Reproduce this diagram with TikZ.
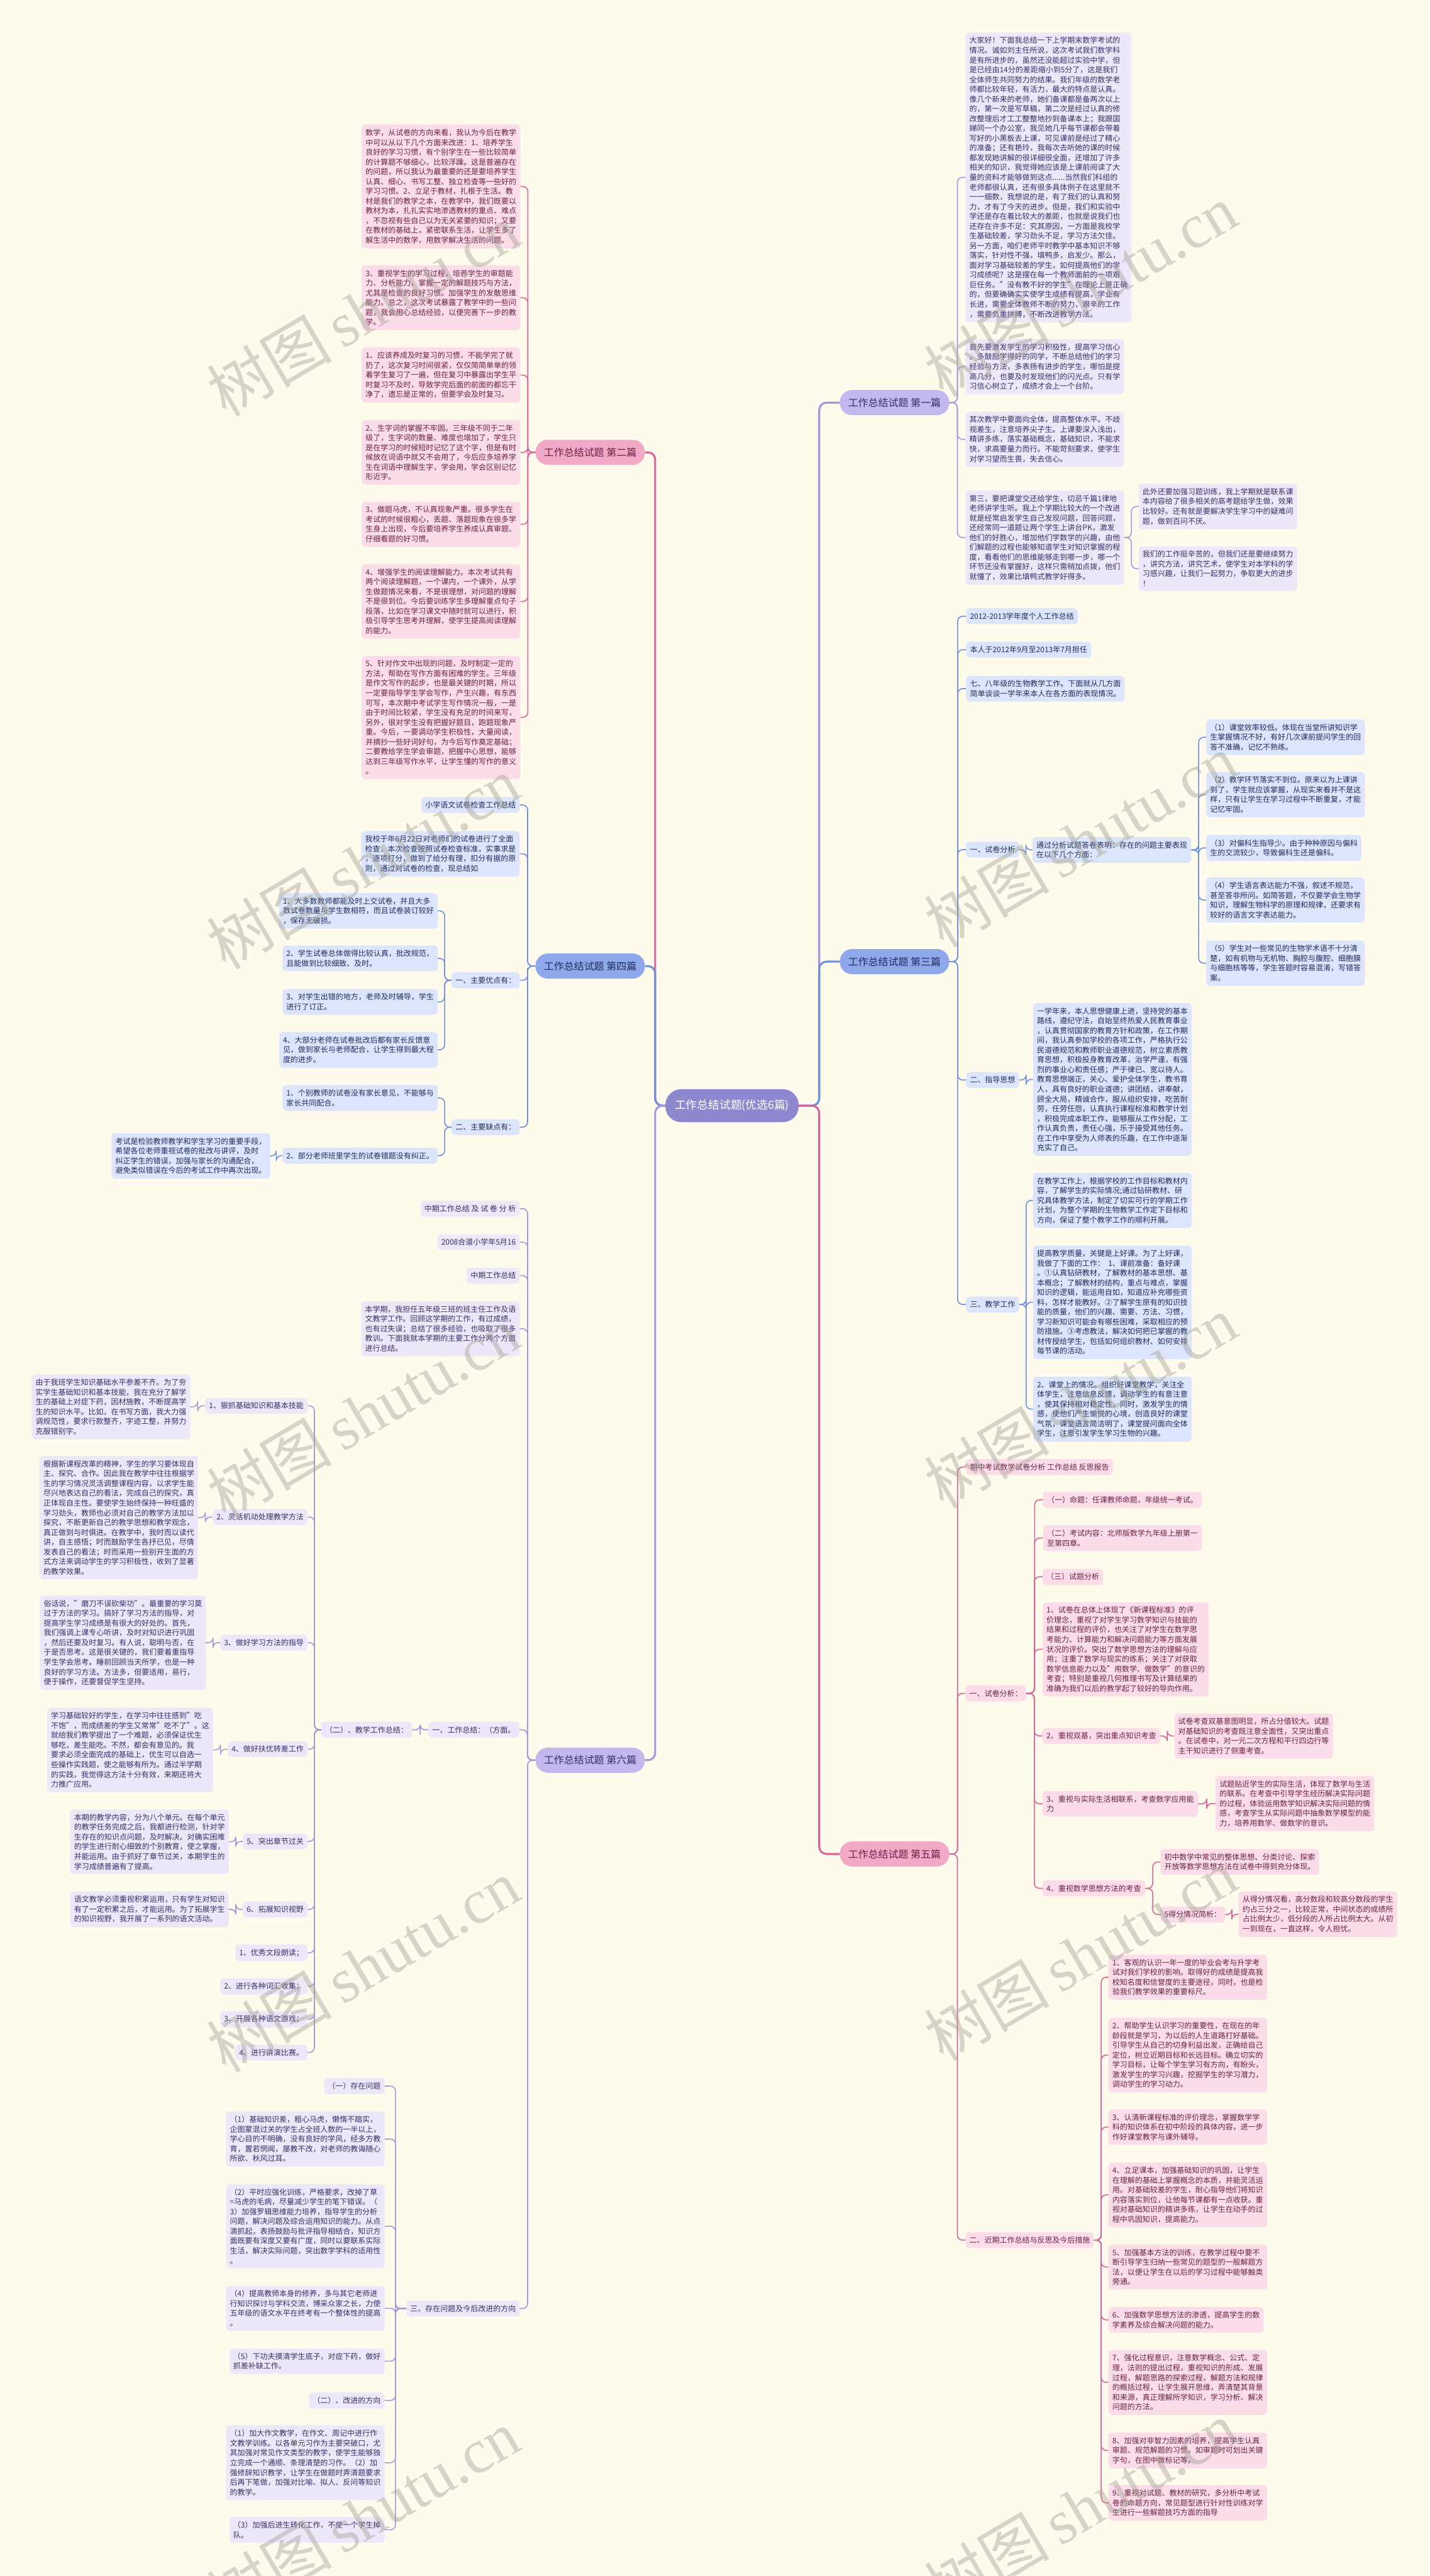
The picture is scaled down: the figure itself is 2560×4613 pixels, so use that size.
\documentclass[tikz,border=0pt]{standalone}
\usepackage{fontspec}
\setmainfont{Noto Sans CJK SC}
\newfontfamily\wmlatin{Liberation Serif}
\usetikzlibrary{calc}
\definecolor{bg}{HTML}{FEFBEC}
\definecolor{pkfill}{HTML}{FBDDEA}
\definecolor{pktext}{HTML}{6A2243}
\definecolor{pkline}{HTML}{D8629A}
\definecolor{pktitle}{HTML}{F2A9C8}
\definecolor{blfill}{HTML}{DCE5FB}
\definecolor{bltext}{HTML}{1E2D5E}
\definecolor{blline}{HTML}{6F8FDF}
\definecolor{bltitle}{HTML}{8FA8EC}
\definecolor{pufill}{HTML}{ECE8FA}
\definecolor{putext}{HTML}{3A2E66}
\definecolor{puline}{HTML}{A497DA}
\definecolor{putitle}{HTML}{C3B8EE}
\definecolor{ctr}{HTML}{8E89CF}
\definecolor{wm}{HTML}{A29E92}
\newcommand\cR[3]{\draw[#1] (#2.east) -| ($(#2.east)!.5!(#3.west)$) |- (#3.west);}
\newcommand\cL[3]{\draw[#1] (#2.west) -| ($(#2.west)!.5!(#3.east)$) |- (#3.east);}
\newcommand\wmark[2]{\node[rotate=30.5,text=wm,text opacity=0.42,font=\fontsize{112}{112}\selectfont] at (#1,#2) {树图\,{\wmlatin shutu.cn}};}
\begin{document}
\begin{tikzpicture}[x=1pt,y=-1pt,
  leaf/.style={font=\fontsize{13.5}{17.5}\selectfont,align=left,inner xsep=7pt,inner ysep=8pt,rounded corners=6pt},
  pk/.style={leaf,fill=pkfill,text=pktext},
  bl/.style={leaf,fill=blfill,text=bltext},
  pu/.style={leaf,fill=pufill,text=putext},
  ttl/.style={font=\fontsize{18}{20}\selectfont,rounded corners=22pt,inner xsep=15pt,inner ysep=6pt,minimum height=45pt},
  pkt/.style={ttl,fill=pktitle,text=pktext},
  blt/.style={ttl,fill=bltitle,text=bltext},
  put/.style={ttl,fill=putitle,text=putext},
  pkm/.style={draw=pkline,line width=3.5pt,rounded corners=13pt},
  blm/.style={draw=blline,line width=3.5pt,rounded corners=13pt},
  pum/.style={draw=puline,line width=3.5pt,rounded corners=13pt},
  pkc/.style={draw=pkline,line width=1.8pt,rounded corners=9pt},
  blc/.style={draw=blline,line width=1.8pt,rounded corners=9pt},
  puc/.style={draw=puline,line width=1.8pt,rounded corners=9pt},
  nw/.style={anchor=north west},
  ne/.style={anchor=north east}]
\fill[bg] (0,0) rectangle (2560,4613);
\useasboundingbox (0,0) rectangle (2560,4613);

% ---------- centre ----------
\node[fill=ctr,text=white,font=\fontsize{20}{22}\selectfont,rounded corners=28pt,inner xsep=17pt,minimum height=59pt] (c) at (1311,1980) {工作总结试题(优选6篇)};

% ---------- titles ----------
\node[put] (t1) at (1602,721) {工作总结试题 第一篇};
\node[pkt] (t2) at (1057,810) {工作总结试题 第二篇};
\node[blt] (t3) at (1602,1722) {工作总结试题 第三篇};
\node[blt] (t4) at (1057,1730) {工作总结试题 第四篇};
\node[pkt] (t5) at (1602,3320) {工作总结试题 第五篇};
\node[put] (t6) at (1057,3152) {工作总结试题 第六篇};

% ---------- branch 1 ----------
\node[pu,nw] (p1) at (1729,58) {大家好！下面我总结一下上学期末数学考试的\\情况。诚如刘主任所说，这次考试我们数学科\\是有所进步的，虽然还没能超过实验中学，但\\是已经由14分的差距缩小到5分了，这是我们\\全体师生共同努力的结果。我们年级的数学老\\师都比较年轻，有活力，最大的特点是认真。\\像几个新来的老师，她们备课都是备两次以上\\的，第一次是写草稿，第二次是经过认真的修\\改整理后才工工整整地抄到备课本上；我跟国\\娣同一个办公室，我见她几乎每节课都会带着\\写好的小黑板去上课，可见课前是经过了精心\\的准备；还有艳玲，我每次去听她的课的时候\\都发现她讲解的很详细很全面，还增加了许多\\相关的知识，我觉得她应该是上课前阅读了大\\量的资料才能够做到这点......当然我们科组的\\老师都很认真，还有很多具体例子在这里就不\\一一细数，我想说的是，有了我们的认真和努\\力，才有了今天的进步。但是，我们和实验中\\学还是存在着比较大的差距，也就是说我们也\\还存在许多不足：究其原因，一方面是我校学\\生基础较差，学习劲头不足，学习方法欠佳。\\另一方面，咱们老师平时教学中基本知识不够\\落实，针对性不强，填鸭多，启发少。那么，\\面对学习基础较差的学生，如何提高他们的学\\习成绩呢？这是摆在每一个教师面前的一项艰\\巨任务。"没有教不好的学生"在理论上是正确\\的，但要确确实实使学生成绩有提高，学业有\\长进，需要全体教师不断的努力，艰辛的工作\\，需要负重拼搏，不断改进教学方法。};
\node[pu,nw] (p2) at (1729,607) {首先要激发学生的学习积极性，提高学习信心\\。多鼓励学得好的同学，不断总结他们的学习\\经验与方法，多表扬有进步的学生，哪怕是提\\高几分，也要及时发现他们的闪光点。只有学\\习信心树立了，成绩才会上一个台阶。};
\node[pu,nw] (p3) at (1729,737) {其次教学中要面向全体，提高整体水平。不歧\\视差生，注意培养尖子生。上课要深入浅出，\\精讲多练，落实基础概念，基础知识，不能求\\快，求高要量力而行。不能苛刻要求，使学生\\对学习望而生畏，失去信心。};
\node[pu,nw] (p4) at (1729,878) {第三，要把课堂交还给学生，切忌千篇1律地\\老师讲学生听。我上个学期比较大的一个改进\\就是经常启发学生自己发现问题，回答问题，\\还经常同一道题让两个学生上讲台PK，激发\\他们的好胜心，增加他们学数学的兴趣，由他\\们解题的过程也能够知道学生对知识掌握的程\\度，看看他们的思维能够走到哪一步，哪一个\\环节还没有掌握好，这样只需稍加点拨，他们\\就懂了，效果比填鸭式教学好得多。};
\node[pu,nw] (p4a) at (2039,866) {此外还要加强习题训练，我上学期就是联系课\\本内容给了很多相关的高考题给学生做，效果\\比较好。还有就是要解决学生学习中的疑难问\\题，做到百问不厌。};
\node[pu,nw] (p4b) at (2039,978) {我们的工作挺辛苦的，但我们还是要继续努力\\，讲究方法，讲究艺术，使学生对本学科的学\\习感兴趣，让我们一起努力，争取更大的进步\\！};

% ---------- branch 2 ----------
\node[pk,ne] (a) at (932,223) {数学，从试卷的方向来看，我认为今后在教学\\中可以从以下几个方面来改进：1、培养学生\\良好的学习习惯，有个别学生在一些比较简单\\的计算题不够细心，比较浮躁。这是普遍存在\\的问题，所以我认为最重要的还是要培养学生\\认真、细心、书写工整、独立检查等一些好的\\学习习惯。2、立足于教材，扎根于生活。教\\材是我们的教学之本，在教学中，我们既要以\\教材为本，扎扎实实地渗透教材的重点、难点\\，不忽视有些自己以为无关紧要的知识；又要\\在教材的基础上，紧密联系生活，让学生多了\\解生活中的数学，用数学解决生活的问题。};
\node[pk,ne] (b) at (932,475) {3、重视学生的学习过程，培养学生的审题能\\力、分析能力，掌握一定的解题技巧与方法，\\尤其是检查的良好习惯。加强学生的发散思维\\能力。总之，这次考试暴露了教学中的一些问\\题，我会用心总结经验，以便完善下一步的教\\学。};
\node[pk,ne] (cc) at (932,622) {1、应该养成及时复习的习惯，不能学完了就\\扔了，这次复习时间很紧，仅仅简简单单的领\\着学生复习了一遍，但在复习中暴露出学生平\\时复习不及时，导致学完后面的前面的都忘干\\净了，遗忘是正常的，但要学会及时复习。};
\node[pk,ne] (d) at (932,752) {2、生字词的掌握不牢固。三年级不同于二年\\级了，生字词的数量、难度也增加了，学生只\\是在学习的时候短时记忆了这个字，但是有时\\候放在词语中就又不会用了，今后应多培养学\\生在词语中理解生字，学会用，学会区别记忆\\形近字。};
\node[pk,ne] (e) at (932,898) {3、做题马虎，不认真现象严重。很多学生在\\考试的时候很粗心，丢题、落题现象在很多学\\生身上出现，今后要培养学生养成认真审题、\\仔细看题的好习惯。};
\node[pk,ne] (f) at (932,1010) {4、增强学生的阅读理解能力。本次考试共有\\两个阅读理解题，一个课内，一个课外，从学\\生做题情况来看，不是很理想，对问题的理解\\不是很到位。今后要训练学生多理解重点句子\\段落，比如在学习课文中随时就可以进行，积\\极引导学生思考并理解，使学生提高阅读理解\\的能力。};
\node[pk,ne] (g) at (932,1174) {5、针对作文中出现的问题，及时制定一定的\\方法，帮助在写作方面有困难的学生。三年级\\是作文写作的起步，也是最关键的时期，所以\\一定要指导学生学会写作，产生兴趣，有东西\\可写，本次期中考试学生写作情况一般，一是\\由于时间比较紧，学生没有充足的时间来写，\\另外，很对学生没有把握好题目，跑题现象严\\重。今后，一要调动学生积极性，大量阅读，\\并摘抄一些好词好句，为今后写作奠定基础；\\二要教给学生学会审题，把握中心思想，能够\\达到三年级写作水平，让学生懂的写作的意义\\。};

% ---------- branch 3 ----------
\node[bl,nw] (q1) at (1730,1089) {2012-2013学年度个人工作总结};
\node[bl,nw] (q2) at (1730,1149) {本人于2012年9月至2013年7月担任};
\node[bl,nw] (q3) at (1730,1210) {七、八年级的生物教学工作。下面就从几方面\\简单谈谈一学年来本人在各方面的表现情况。};
\node[bl,nw] (q4) at (1730,1507) {一、试卷分析};
\node[bl,anchor=west] (q4a) at (1849,1522) {通过分析试题答卷表明：存在的问题主要表现\\在以下几个方面：};
\node[bl,nw] (q41) at (2160,1288) {（1）课堂效率较低。体现在当堂所讲知识学\\生掌握情况不好，有好几次课前提问学生的回\\答不准确，记忆不熟练。};
\node[bl,nw] (q42) at (2160,1382) {（2）教学环节落实不到位。原来以为上课讲\\到了，学生就应该掌握，从现实来看并不是这\\样，只有让学生在学习过程中不断重复，才能\\记忆牢固。};
\node[bl,nw] (q43) at (2160,1495) {（3）对偏科生指导少。由于种种原因与偏科\\生的交流较少，导致偏科生还是偏科。};
\node[bl,nw] (q44) at (2160,1571) {（4）学生语言表达能力不强，叙述不规范，\\甚至答非所问。如简答题，不仅要学会生物学\\知识，理解生物科学的原理和规律，还要求有\\较好的语言文字表达能力。};
\node[bl,nw] (q45) at (2160,1684) {（5）学生对一些常见的生物学术语不十分清\\楚，如有机物与无机物、胸腔与腹腔、细胞膜\\与细胞核等等，学生答题时容易混淆，写错答\\案。};
\node[bl,anchor=west] (q5) at (1730,1934) {二、指导思想};
\node[bl,nw] (q5a) at (1850,1796) {一学年来，本人思想健康上进，坚持党的基本\\路线，遵纪守法，自始至终热爱人民教育事业\\，认真贯彻国家的教育方针和政策，在工作期\\间，我认真参加学校的各项工作，严格执行公\\民道德规范和教师职业道德规范，树立素质教\\育思想，积极投身教育改革，治学严谨，有强\\烈的事业心和责任感；严于律已、宽以待人。\\教育思想端正，关心、爱护全体学生，教书育\\人，具有良好的职业道德；讲团结，讲奉献，\\顾全大局，精诚合作，服从组织安排，吃苦耐\\劳，任劳任怨，认真执行课程标准和教学计划\\，积极完成本职工作，能够服从工作分配，工\\作认真负责，责任心强，乐于接受其他任务。\\在工作中享受为人师表的乐趣，在工作中逐渐\\充实了自己。};
\node[bl,anchor=west] (q6) at (1730,2336) {三、教学工作};
\node[bl,nw] (q6a) at (1850,2100) {在教学工作上，根据学校的工作目标和教材内\\容，了解学生的实际情况;通过钻研教材、研\\究具体教学方法，制定了切实可行的学期工作\\计划，为整个学期的生物教学工作定下目标和\\方向，保证了整个教学工作的顺利开展。};
\node[bl,nw] (q6b) at (1850,2230) {提高教学质量，关键是上好课。为了上好课，\\我做了下面的工作：\ \ 1、课前准备：备好课\\。①认真钻研教材，了解教材的基本思想、基\\本概念；了解教材的结构，重点与难点，掌握\\知识的逻辑，能运用自如，知道应补充哪些资\\料，怎样才能教好。②了解学生原有的知识技\\能的质量，他们的兴趣、需要、方法、习惯，\\学习新知识可能会有哪些困难，采取相应的预\\防措施。③考虑教法，解决如何把已掌握的教\\材传授给学生，包括如何组织教材、如何安排\\每节课的活动。};
\node[bl,nw] (q6c) at (1850,2465) {2、课堂上的情况。组织好课堂教学，关注全\\体学生，注意信息反馈，调动学生的有意注意\\，使其保持相对稳定性，同时，激发学生的情\\感，使他们产生愉悦的心境，创造良好的课堂\\气氛，课堂语言简洁明了，课堂提问面向全体\\学生，注意引发学生学习生物的兴趣。};

% ---------- branch 4 ----------
\node[bl,ne] (s1) at (931,1427) {小学语文试卷检查工作总结};
\node[bl,ne] (s2) at (931,1488) {我校于年6月22日对老师们的试卷进行了全面\\检查，本次检查按照试卷检查标准，实事求是\\，逐项打分，做到了给分有理，扣分有据的原\\则，通过对试卷的检查，现总结如};
\node[bl,ne] (s3) at (931,1741) {一、主要优点有：};
\node[bl,ne] (s31) at (784,1599) {1、大多数教师都能及时上交试卷，并且大多\\数试卷数量与学生数相符，而且试卷装订较好\\，保存无破损。};
\node[bl,ne] (s32) at (784,1693) {2、学生试卷总体做得比较认真，批改规范，\\且能做到比较细致、及时。};
\node[bl,ne] (s33) at (784,1771) {3、对学生出错的地方，老师及时辅导，学生\\进行了订正。};
\node[bl,ne] (s34) at (784,1848) {4、大部分老师在试卷批改后都有家长反馈意\\见，做到家长与老师配合，让学生得到最大程\\度的进步。};
\node[bl,ne] (s4) at (931,2004) {二、主要缺点有：};
\node[bl,ne] (s41) at (784,1943) {1、个别教师的试卷没有家长意见，不能够与\\家长共同配合。};
\node[bl,ne] (s42) at (784,2055) {2、部分老师班里学生的试卷错题没有纠正。};
\node[bl,anchor=east] (s42a) at (484,2070) {考试是检验教师教学和学生学习的重要手段，\\希望各位老师重视试卷的批改与讲评，及时\\纠正学生的错误，加强与家长的沟通配合，\\避免类似错误在今后的考试工作中再次出现。};

% ---------- branch 5 ----------
\node[pk,anchor=west] (f1) at (1730,2627) {期中考试数学试卷分析 工作总结 反思报告};
\node[pk,nw] (f2) at (1729,3018) {一、试卷分析：};
\node[pk,nw] (f21) at (1868,2671) {（一）命题：任课教师命题，年级统一考试。};
\node[pk,nw] (f22) at (1868,2731) {（二）考试内容：北师版数学九年级上册第一\\至第四章。};
\node[pk,nw] (f23) at (1867,2809) {（三）试题分析};
\node[pk,nw] (f24) at (1867,2869) {1、试卷在总体上体现了《新课程标准》的评\\价理念，重视了对学生学习数学知识与技能的\\结果和过程的评价，也关注了对学生在数学思\\考能力、计算能力和解决问题能力等方面发展\\状况的评价。突出了数学思想方法的理解与应\\用；注重了数学与现实的练系；关注了对获取\\数学信息能力以及"用数学、做数学"的意识的\\考查；特别是重视几何推理书写及计算结果的\\准确为我们以后的教学起了较好的导向作用。};
\node[pk,nw] (f25) at (1867,3094) {2、重视双基，突出重点知识考查};
\node[pk,nw] (f25a) at (2103,3068) {试卷考查双基意图明显，所占分值较大。试题\\对基础知识的考查既注意全面性，又突出重点\\。在试卷中，对一元二次方程和平行四边行等\\主干知识进行了侧重考查。};
\node[pk,nw] (f26) at (1867,3207) {3、重视与实际生活相联系，考查数学应用能\\力};
\node[pk,nw] (f26a) at (2177,3180) {试题贴近学生的实际生活，体现了数学与生活\\的联系。在考查中引导学生经历解决实际问题\\的过程，体验运用数学知识解决实际问题的情\\感，考查学生从实际问题中抽象数学模型的能\\力，培养用数学、做数学的意识。};
\node[pk,nw] (f27) at (1867,3367) {4、重视数学思想方法的考查};
\node[pk,nw] (f27a) at (2078,3311) {初中数学中常见的整体思想、分类讨论、探索\\开放等数学思想方法在试卷中得到充分体现。};
\node[pk,nw] (f27b) at (2078,3414) {5得分情况简析：};
\node[pk,nw] (f27c) at (2218,3387) {从得分情况看，高分数段和较高分数段的学生\\约占三分之一，比较正常，中间状态的成绩所\\占比例太少，低分段的人所占比例太大。从初\\一到现在，一直这样，令人担忧。};
\node[pk,nw] (f3) at (1729,3997) {二、近期工作总结与反思及今后措施};
\node[pk,nw] (f31) at (1985,3500) {1、客观的认识一年一度的毕业会考与升学考\\试对我们学校的影响。取得好的成绩是提高我\\校知名度和信誉度的主要途径，同时，也是检\\验我们教学效果的重要标尺。};
\node[pk,nw] (f32) at (1985,3613) {2、帮助学生认识学习的重要性，在现在的年\\龄段就是学习，为以后的人生道路打好基础。\\引导学生从自己的切身利益出发，正确给自己\\定位，树立近期目标和长远目标。确立切实的\\学习目标，让每个学生学习有方向，有盼头，\\激发学生的学习兴趣，挖掘学生的学习潜力，\\调动学生的学习动力。};
\node[pk,nw] (f33) at (1985,3777) {3、认清新课程标准的评价理念，掌握数学学\\科的知识体系在初中阶段的具体内容，进一步\\作好课堂教学与课外辅导。};
\node[pk,nw] (f34) at (1985,3872) {4、立足课本，加强基础知识的巩固，让学生\\在理解的基础上掌握概念的本质，并能灵活运\\用。对基础较差的学生，耐心指导他们将知识\\内容落实到位，让他每节课都有一点收获。重\\视对基础知识的精讲多练，让学生在动手的过\\程中巩固知识，提高能力。};
\node[pk,nw] (f35) at (1985,4019) {5、加强基本方法的训练，在教学过程中要不\\断引导学生归纳一些常见的题型的一般解题方\\法，以便让学生在以后的学习过程中能够触类\\旁通。};
\node[pk,nw] (f36) at (1985,4131) {6、加强数学思想方法的渗透，提高学生的数\\学素养及综合解决问题的能力。};
\node[pk,nw] (f37) at (1985,4208) {7、强化过程意识，注意数学概念、公式、定\\理，法则的提出过程，重视知识的形成、发展\\过程，解题思路的探索过程，解题方法和规律\\的概括过程，让学生展开思维，弄清楚其背景\\和来源，真正理解所学知识，学习分析、解决\\问题的方法。};
\node[pk,nw] (f38) at (1985,4356) {8、加强对非智力因素的培养，提高学生认真\\审题、规范解题的习惯。如审题时可划出关键\\字句，在图中做标记等。};
\node[pk,nw] (f39) at (1985,4450) {9、重视对试题、教材的研究，多分析中考试\\卷的命题方向，常见题型进行针对性训练对学\\生进行一些解题技巧方面的指导};

% ---------- branch 6 ----------
\node[pu,ne] (x1) at (931,2150) {中期工作总结 及 试 卷 分 析};
\node[pu,ne] (x2) at (931,2210) {2008合道小学年5月16};
\node[pu,ne] (x3) at (931,2270) {中期工作总结};
\node[pu,ne] (x4) at (931,2330) {本学期，我担任五年级三班的班主任工作及语\\文教学工作。回顾这学期的工作，有过成绩，\\也有过失误；总结了很多经验，也吸取了很多\\教训。下面我就本学期的主要工作分两个方面\\进行总结。};
\node[pu,ne] (x5) at (930,3083) {一、工作总结：（方面。};
\node[pu,ne] (x5a) at (738,3083) {（二）、教学工作总结：};
\node[pu,ne] (x51) at (551,2503) {1、狠抓基础知识和基本技能};
\node[pu,ne] (x51a) at (341,2461) {由于我班学生知识基础水平参差不齐。为了夯\\实学生基础知识和基本技能，我在充分了解学\\生的基础上对症下药，因材施教，不断提高学\\生的知识水平。比如，在书写方面，我大力强\\调规范性，要求行款整齐，字迹工整，并努力\\克服错别字。};
\node[pu,ne] (x52) at (551,2702) {2、灵活机动处理教学方法};
\node[pu,ne] (x52a) at (355,2607) {根据新课程改革的精神，学生的学习要体现自\\主、探究、合作。因此我在教学中往往根据学\\生的学习情况灵活调整课程内容，以求学生能\\尽兴地表达自己的看法，完成自己的探究，真\\正体现自主性。要使学生始终保持一种旺盛的\\学习劲头，教师也必须对自己的教学方法加以\\探究，不断更新自己的教学思想和教学观念，\\真正做到与时俱进。在教学中，我时而以读代\\讲，自主感悟；时而鼓励学生各抒已见，尽情\\发表自己的看法；时而采用一些别开生面的方\\式方法来调动学生的学习积极性，收到了显著\\的教学效果。};
\node[pu,ne] (x53) at (551,2927) {3、做好学习方法的指导};
\node[pu,ne] (x53a) at (369,2857) {俗话说，"磨刀不误砍柴功"。最重要的学习莫\\过于方法的学习。搞好了学习方法的指导，对\\提高学生学习成绩是有很大的好处的。首先，\\我们强调上课专心听讲，及时对知识进行巩固\\，然后还要及时复习。有人说，聪明与否，在\\于是否思考。这是很关键的，我们要着重指导\\学生学会思考。睡前回顾当天所学，也是一种\\良好的学习方法。方法多，但要适用，易行，\\便于操作，还要督促学生坚持。};
\node[pu,ne] (x54) at (551,3118) {4、做好扶优转差工作};
\node[pu,ne] (x54a) at (382,3058) {学习基础较好的学生，在学习中往往感到"吃\\不饱"，而成绩差的学生又常常"吃不了"。这\\就给我们教学提出了一个难题，必须保证优生\\够吃，差生能吃。不然，都会有意见的。我\\要求必须全面完成的基础上，优生可以自选一\\些操作实践题，使之能够有所为。通过半学期\\的实践，我觉得这方法十分有效，来期还将大\\力推广应用。};
\node[pu,ne] (x55) at (551,3283) {5、突出章节过关};
\node[pu,ne] (x55a) at (410,3240) {本期的教学内容，分为八个单元。在每个单元\\的教学任务完成之后，我都进行检测，针对学\\生存在的知识点问题，及时解决。对确实困难\\的学生进行耐心细致的个别教育，使之掌握，\\并能运用。由于抓好了章节过关，本期学生的\\学习成绩普遍有了提高。};
\node[pu,ne] (x56) at (551,3405) {6、拓展知识视野};
\node[pu,ne] (x56a) at (410,3387) {语文教学必须重视积累运用，只有学生对知识\\有了一定积累之后，才能运用。为了拓展学生\\的知识视野，我开展了一系列的语文活动。};
\node[pu,ne] (x57) at (551,3482) {1、优秀文段朗读；};
\node[pu,ne] (x58) at (551,3542) {2、进行各种词汇收集；};
\node[pu,ne] (x59) at (551,3601) {3、开展各种语文游戏；};
\node[pu,ne] (x5x) at (551,3661) {4、进行讲演比赛。};
\node[pu,anchor=east] (x6) at (931,4134) {三、存在问题及今后改进的方向};
\node[pu,ne] (x61) at (689,3721) {（一）存在问题};
\node[pu,ne] (x62) at (689,3781) {（1）基础知识差，粗心马虎，懒惰不踏实，\\企图蒙混过关的学生占全班人数的一半以上，\\学心目的不明确，没有良好的学风，经多方教\\育，置若惘闻，屡教不改，对老师的教诲随心\\所欲、秋风过耳。};
\node[pu,ne] (x63) at (689,3911) {（2）平时应强化训练，严格要求，改掉了草\\=马虎的毛病，尽量减少学生的笔下错误。（\\3）加强罗辑思维能力培养，指导学生的分析\\问题，解决问题及综合运用知识的能力。从点\\滴抓起，表扬鼓励与批评指导相结合，知识方\\面既要有深度又要有广度，同时以要联系实际\\生活，解决实际问题，突出数学学科的适用性\\。};
\node[pu,ne] (x64) at (689,4093) {（4）提高教师本身的修养，多与其它老师进\\行知识探讨与学科交流，博采众家之长，力使\\五年级的语文水平在终考有一个整体性的提高\\。};
\node[pu,ne] (x65) at (689,4205) {（5）下功夫摸清学生底子，对症下药，做好\\抓差补缺工作。};
\node[pu,ne] (x66) at (689,4284) {（二）、改进的方向};
\node[pu,ne] (x67) at (689,4343) {（1）加大作文教学，在作文、周记中进行作\\文教学训练。以各单元习作为主要突破口，尤\\其加强对常见作文类型的教学，使学生能够独\\立完成一个通顺、条理清楚的习作。（2）加\\强修辞知识教学，让学生在做题时弄清题要求\\后再下笔做，加强对比喻、拟人、反问等知识\\的教学。};
\node[pu,ne] (x68) at (689,4507) {（3）加强后进生转化工作，不使一个学生掉\\队。};

% ---------- connectors ----------
\cR{pum}{c}{t1}
\cR{blm}{c}{t3}
\cR{pkm}{c}{t5}
\cL{pkm}{c}{t2}
\cL{blm}{c}{t4}
\cL{pum}{c}{t6}

\foreach \n in {p1,p2,p3,p4}{\cR{puc}{t1}{\n}}
\cR{puc}{p4}{p4a}
\cR{puc}{p4}{p4b}

\foreach \n in {a,b,cc,d,e,f,g}{\cL{pkc}{t2}{\n}}

\foreach \n in {q1,q2,q3,q4,q5,q6}{\cR{blc}{t3}{\n}}
\cR{blc}{q4}{q4a}
\foreach \n in {q41,q42,q43,q44,q45}{\cR{blc}{q4a}{\n}}
\cR{blc}{q5}{q5a}
\foreach \n in {q6a,q6b,q6c}{\cR{blc}{q6}{\n}}

\foreach \n in {s1,s2,s3,s4}{\cL{blc}{t4}{\n}}
\foreach \n in {s31,s32,s33,s34}{\cL{blc}{s3}{\n}}
\foreach \n in {s41,s42}{\cL{blc}{s4}{\n}}
\cL{blc}{s42}{s42a}

\foreach \n in {f1,f2,f3}{\cR{pkc}{t5}{\n}}
\foreach \n in {f21,f22,f23,f24,f25,f26,f27}{\cR{pkc}{f2}{\n}}
\cR{pkc}{f25}{f25a}
\cR{pkc}{f26}{f26a}
\cR{pkc}{f27}{f27a}
\cR{pkc}{f27}{f27b}
\cR{pkc}{f27b}{f27c}
\foreach \n in {f31,f32,f33,f34,f35,f36,f37,f38,f39}{\cR{pkc}{f3}{\n}}

\foreach \n in {x1,x2,x3,x4,x5,x6}{\cL{puc}{t6}{\n}}
\cL{puc}{x5}{x5a}
\foreach \n in {x51,x52,x53,x54,x55,x56,x57,x58,x59,x5x}{\cL{puc}{x5a}{\n}}
\cL{puc}{x51}{x51a}
\cL{puc}{x52}{x52a}
\cL{puc}{x53}{x53a}
\cL{puc}{x54}{x54a}
\cL{puc}{x55}{x55a}
\cL{puc}{x56}{x56a}
\foreach \n in {x61,x62,x63,x64,x65,x66,x67,x68}{\cL{puc}{x6}{\n}}

% ---------- watermarks ----------
\foreach \yy in {555,1545,2530,3520,4505}{\wmark{650}{\yy}}
\foreach \yy in {520,1505,2510,3500,4490}{\wmark{1935}{\yy}}
\end{tikzpicture}
\end{document}
